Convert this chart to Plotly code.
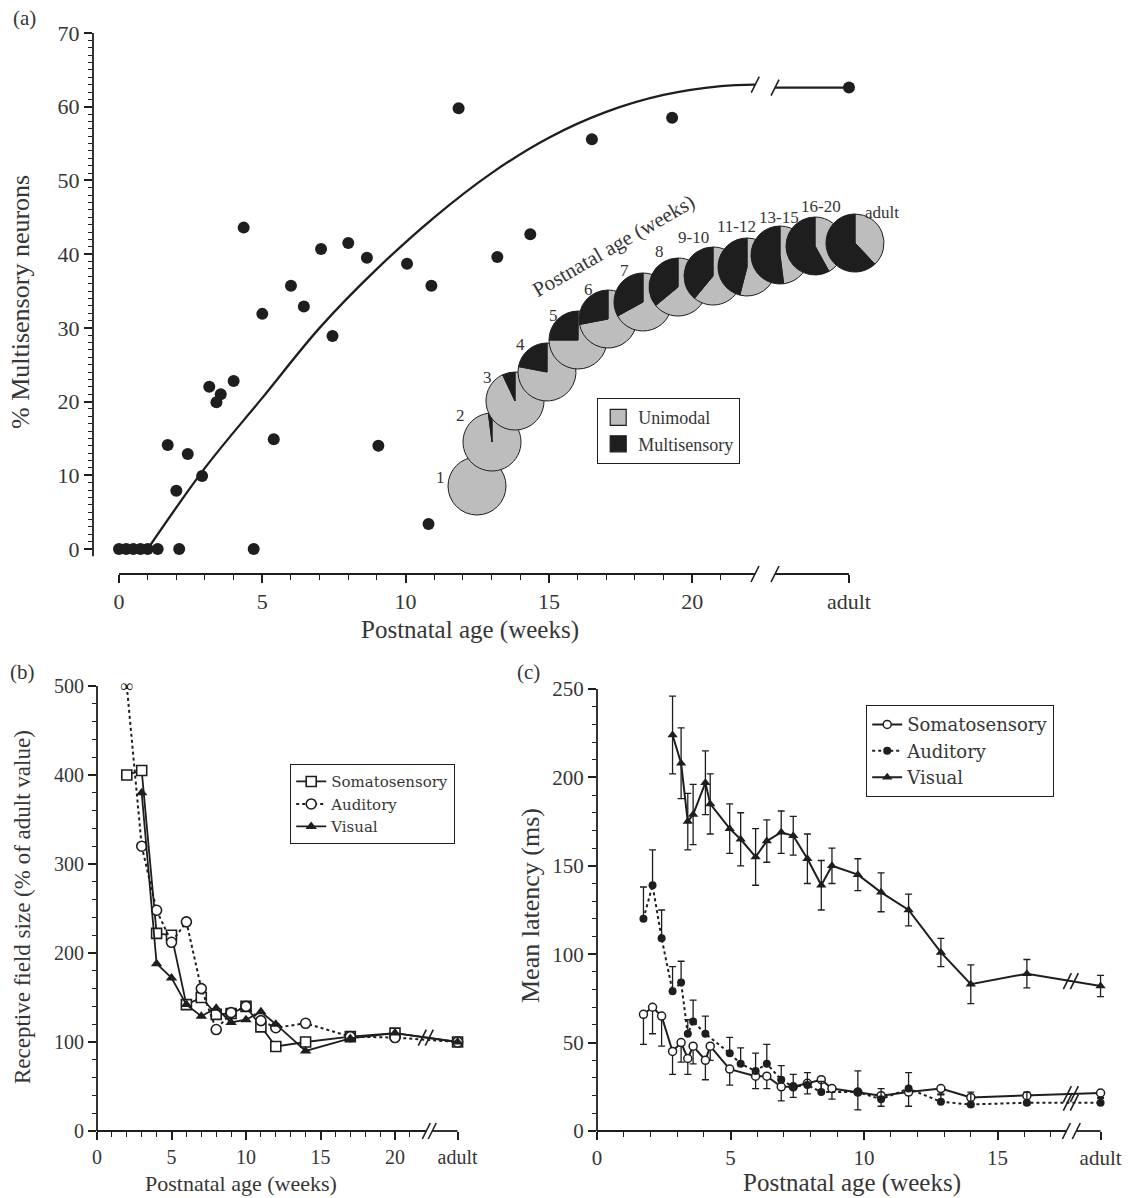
import plotly.graph_objects as go

W, H = 1138, 1198
SERIF = "Liberation Serif, 'Times New Roman', DejaVu Serif, serif"
WIDE_SERIF = "DejaVu Serif, Liberation Serif, serif"
INK = "#1e1e1e"
TXT = "#363636"
GREY = "#bdbdbd"

# ---------------- data: panel (a) ----------------
A_AGE = [0, 0.25, 0.5, 0.75, 1.0, 1.35, 1.7, 2.0, 2.1, 2.4, 2.9, 3.15, 3.4, 3.55, 4.0, 4.35, 4.7,
         5.0, 5.4, 6.0, 6.45, 7.05, 7.45, 8.0, 8.65, 9.05, 10.05, 10.8, 10.9, 11.85, 13.2, 14.35,
         16.5, 19.3]
A_PCT = [0, 0, 0, 0, 0, 0, 14.1, 7.9, 0, 12.9, 9.9, 22, 19.9, 21, 22.8, 43.6, 0,
         31.9, 14.9, 35.7, 32.9, 40.7, 28.9, 41.5, 39.5, 14, 38.7, 3.4, 35.7, 59.8, 39.6, 42.7,
         55.6, 58.5]
A_ADULT_PCT = 62.6
FIT_AGE = [1.0, 3, 5, 7, 9, 11, 13, 15, 17, 19, 21, 22.2]
FIT_PCT = [0, 11, 20.5, 30, 38, 45, 51, 55.8, 59.3, 61.6, 62.8, 63.0]
FIT_ADULT_PCT = 62.6
A_XTICKS = [0, 5, 10, 15, 20]
A_YTICKS = [0, 10, 20, 30, 40, 50, 60, 70]
ADULT_LABEL = "adult"

PIE_AGES = ["1", "2", "3", "4", "5", "6", "7", "8", "9-10", "11-12", "13-15", "16-20", "adult"]
PIE_MULTI_PCT = [0, 2, 7, 22, 25, 28, 33, 36, 39, 46, 52, 58, 62]
PIE_SLICES = ["Unimodal", "Multisensory"]

# ---------------- data: panel (b) ----------------
B_SOM_AGE = [2, 3, 4, 5, 6, 7, 8, 9, 10, 11, 12, 14, 17, 20]
B_SOM_RF = [400, 405, 222, 220, 142, 150, 131, 132, 140, 117, 95, 100, 106, 110]
B_AUD_AGE = [2, 3, 4, 5, 6, 7, 8, 9, 10, 11, 12, 14, 17, 20]
B_AUD_RF = [500, 320, 248, 212, 235, 160, 114, 133, 140, 124, 116, 121, 106, 105]  # 2 wk: infinite
B_VIS_AGE = [3, 4, 5, 6, 7, 8, 9, 10, 11, 12, 14, 17, 20]
B_VIS_RF = [380, 188, 172, 142, 129, 138, 122, 125, 134, 120, 90, 104, 110]
B_ADULT_RF = 100
B_XTICKS = [0, 5, 10, 15, 20]
B_YTICKS = [0, 100, 200, 300, 400, 500]

# ---------------- data: panel (c) ----------------
C_SOM_AGE = [1.74, 2.08, 2.42, 2.83, 3.15, 3.4, 3.6, 4.06, 4.24, 4.97, 5.94, 6.36, 6.9, 7.35, 7.88,
             8.4, 8.8, 9.77, 10.64, 11.67, 12.88, 14.0, 16.1]
C_SOM_LAT = [66, 70, 65, 45, 50, 41, 48, 40, 48, 35, 31, 31, 25, 25, 27, 29, 24, 22, 20, 22, 24, 19, 20]
C_SOM_ERR = [17, 15, 17, 13, 11, 9, 10, 11, 8, 9, 7, 7, 8, 6, 6, 6, 6, 10, 6, 8, 3, 5, 5]
C_SOM_ADULT, C_SOM_ADULT_ERR = 21.5, 3

C_AUD_AGE = [1.74, 2.08, 2.42, 2.83, 3.15, 3.4, 3.6, 4.06, 4.97, 5.38, 5.94, 6.36, 6.9, 7.35, 7.88,
             8.4, 9.77, 10.64, 11.67, 12.88, 14.0, 16.1]
C_AUD_LAT = [120, 139, 109, 79, 84, 55, 62, 55, 44, 38, 34, 38, 29, 25, 26, 22, 22, 18, 24, 16.5, 15, 16]
C_AUD_ERR = [18, 20, 16, 14, 12, 8, 12, 10, 9, 9, 10, 11, 8, 7, 7, 6, 12, 6, 9, 4, 7, 6]
C_AUD_ADULT, C_AUD_ADULT_ERR = 16, 3

C_VIS_AGE = [2.83, 3.15, 3.4, 3.6, 4.06, 4.24, 4.97, 5.38, 5.94, 6.36, 6.9, 7.35, 7.88, 8.4, 8.8,
             9.77, 10.64, 11.67, 12.88, 14.0, 16.1]
C_VIS_LAT = [224, 208, 175, 179, 197, 185, 171, 165, 155, 164, 169, 167, 154, 139, 150, 145, 135,
             125, 101, 83, 89]
C_VIS_ERR = [22, 20, 16, 17, 18, 17, 14, 15, 16, 12, 12, 11, 14, 14, 10, 9, 11, 9, 8, 11, 8]
C_VIS_ADULT, C_VIS_ADULT_ERR = 82, 6
C_XTICKS = [0, 5, 10, 15]
C_YTICKS = [0, 50, 100, 150, 200, 250]

SERIES_NAMES = ["Somatosensory", "Auditory", "Visual"]

# ---------------- layout geometry (pixels) ----------------
PANELS = {
    "a": dict(ax="", xpix=(93, 870), x0=119, xs=28.66, ypix=(574, 28), y0=549, ys=7.371,
              adult=25.47, brk=(22.19, 22.89), tick=22),
    "b": dict(ax="2", xpix=(97, 470), x0=97, xs=14.9, ypix=(1131, 676), y0=1131, ys=0.89,
              adult=24.2, brk=(22.1, 22.5), tick=20),
    "c": dict(ax="3", xpix=(597, 1115), x0=597, xs=26.7, ypix=(1131, 680), y0=1131, ys=1.768,
              adult=18.86, brk=(17.58, 17.95), tick=21),
}
PIE_CENTERS = [(477, 486), (492, 442), (515, 401), (547, 372), (578, 340), (608, 319), (643, 302),
               (678, 287), (713, 276), (747, 267), (780, 255), (815, 246), (855, 243)]
PIE_R = 29
PIE_LABEL_POS = [(440, 478), (460, 416), (487, 377), (520, 345), (553, 315), (588, 289), (624, 270),
                 (659, 251), (693, 238), (736, 226), (779, 218), (821, 207), (882, 213)]

fig = go.Figure()


def ids(p):
    a = PANELS[p]["ax"]
    return "x" + a, "y" + a


def axis_dicts(p, xticks, yticks, xminor, yminor):
    g = PANELS[p]
    xa = dict(
        domain=[g["xpix"][0] / W, g["xpix"][1] / W],
        range=[(g["xpix"][0] - g["x0"]) / g["xs"], (g["xpix"][1] - g["x0"]) / g["xs"]],
        tickmode="array", tickvals=xticks + [g["adult"]],
        ticktext=[str(v) for v in xticks] + [ADULT_LABEL],
        ticks="outside", ticklen=8, tickwidth=1.5, tickcolor=INK, automargin=False,
        showline=False, showgrid=False, zeroline=False, fixedrange=True,
        tickfont=dict(family=SERIF, size=g["tick"], color=TXT),
        minor=dict(tickmode="array", tickvals=xminor, ticks="outside", ticklen=5,
                   tickwidth=1.2, tickcolor=INK, showgrid=False),
        anchor=ids(p)[1],
    )
    ya = dict(
        domain=[1 - g["ypix"][0] / H, 1 - g["ypix"][1] / H],
        range=[(g["y0"] - g["ypix"][0]) / g["ys"], (g["y0"] - g["ypix"][1]) / g["ys"]],
        tickmode="array", tickvals=yticks, ticktext=[str(v) for v in yticks],
        ticks="outside", ticklen=8, tickwidth=1.5, tickcolor=INK, automargin=False,
        showline=False, showgrid=False, zeroline=False, fixedrange=True,
        tickfont=dict(family=SERIF, size=g["tick"], color=TXT),
        minor=dict(tickmode="array", tickvals=yminor, ticks="outside", ticklen=4,
                   tickwidth=1.1, tickcolor=INK, showgrid=False),
        anchor=ids(p)[0],
    )
    return xa, ya


shapes = []


def slash(xref, yref, xv, yv, dx=0, w=1.6):
    return dict(type="line", xref=xref, yref=yref, xsizemode="pixel", ysizemode="pixel",
                xanchor=xv, yanchor=yv, x0=dx - 4, x1=dx + 4, y0=-8, y1=8,
                line=dict(color=INK, width=w), layer="above")


def axis_lines(p, ytop, ybottom=0):
    g = PANELS[p]
    xr, yr = ids(p)
    shapes.append(dict(type="line", xref=xr + " domain", yref=yr, x0=0, x1=0, y0=ybottom, y1=ytop,
                       line=dict(color=INK, width=1.8)))
    shapes.append(dict(type="line", xref=xr, yref=yr + " domain", x0=0, x1=g["brk"][0], y0=0, y1=0,
                       line=dict(color=INK, width=1.8)))
    shapes.append(dict(type="line", xref=xr, yref=yr + " domain", x0=g["brk"][1], x1=g["adult"],
                       y0=0, y1=0, line=dict(color=INK, width=1.8)))
    for b in g["brk"]:
        shapes.append(slash(xr, yr + " domain", b, 0))


# ---------------- panel (a) ----------------
xa, ya = ids("a")
ga = PANELS["a"]
fig.add_trace(go.Scatter(x=A_AGE + [ga["adult"]], y=A_PCT + [A_ADULT_PCT], mode="markers",
                         marker=dict(size=12, color=INK), xaxis=xa, yaxis=ya, showlegend=False,
                         cliponaxis=False, hoverinfo="skip"))
fig.add_trace(go.Scatter(x=FIT_AGE, y=FIT_PCT, mode="lines", line=dict(color=INK, width=2.3, shape="spline"),
                         xaxis=xa, yaxis=ya, showlegend=False, hoverinfo="skip"))
fig.add_trace(go.Scatter(x=[ga["brk"][1], ga["adult"]], y=[FIT_ADULT_PCT, FIT_ADULT_PCT], mode="lines",
                         line=dict(color=INK, width=2.3), xaxis=xa, yaxis=ya, showlegend=False,
                         hoverinfo="skip"))
shapes.append(slash(xa, ya, FIT_AGE[-1], FIT_PCT[-1]))
shapes.append(slash(xa, ya, ga["brk"][1], FIT_ADULT_PCT))
axis_lines("a", max(A_YTICKS), -1)

for lab, m, (cx, cy) in zip(PIE_AGES, PIE_MULTI_PCT, PIE_CENTERS):
    if m > 0:
        labels, values, cols = PIE_SLICES, [100 - m, m], [GREY, INK]
    else:
        labels, values, cols = PIE_SLICES[:1], [100], [GREY]
    fig.add_trace(go.Pie(labels=labels, values=values, sort=False, direction="clockwise",
                         rotation=0, textinfo="none", hoverinfo="skip", showlegend=False,
                         marker=dict(colors=cols, line=dict(color=INK, width=1)),
                         domain=dict(x=[(cx - PIE_R) / W, (cx + PIE_R) / W],
                                     y=[1 - (cy + PIE_R) / H, 1 - (cy - PIE_R) / H])))
for name, col in zip(PIE_SLICES, [GREY, INK]):
    fig.add_trace(go.Scatter(x=[None], y=[None], mode="markers", name=name, legend="legend3",
                             marker=dict(symbol="square", size=16, color=col, line=dict(color=INK, width=1.2)),
                             xaxis=xa, yaxis=ya))

# ---------------- panel (b) ----------------
xb, yb = ids("b")
gb = PANELS["b"]
fig.add_trace(go.Scatter(x=B_AUD_AGE[:2], y=B_AUD_RF[:2], mode="lines",
                         line=dict(color=INK, width=2, dash="dot"), xaxis=xb, yaxis=yb,
                         showlegend=False, hoverinfo="skip"))
fig.add_trace(go.Scatter(x=B_SOM_AGE + [gb["adult"]], y=B_SOM_RF + [B_ADULT_RF], mode="lines+markers",
                         name=SERIES_NAMES[0], legend="legend2",
                         line=dict(color=INK, width=1.8),
                         marker=dict(symbol="square", size=10, color="white", line=dict(color=INK, width=1.6)),
                         xaxis=xb, yaxis=yb, cliponaxis=False, hoverinfo="skip"))
fig.add_trace(go.Scatter(x=B_AUD_AGE[1:] + [gb["adult"]], y=B_AUD_RF[1:] + [B_ADULT_RF], mode="lines+markers",
                         name=SERIES_NAMES[1], legend="legend2",
                         line=dict(color=INK, width=2, dash="dot"),
                         marker=dict(symbol="circle", size=10, color="white", line=dict(color=INK, width=1.6)),
                         xaxis=xb, yaxis=yb, cliponaxis=False, hoverinfo="skip"))
fig.add_trace(go.Scatter(x=B_VIS_AGE + [gb["adult"]], y=B_VIS_RF + [B_ADULT_RF], mode="lines+markers",
                         name=SERIES_NAMES[2], legend="legend2",
                         line=dict(color=INK, width=1.8),
                         marker=dict(symbol="triangle-up", size=10, color=INK),
                         xaxis=xb, yaxis=yb, cliponaxis=False, hoverinfo="skip"))
bmid = (B_SOM_AGE[-1] + gb["adult"]) / 2
shapes.append(slash(xb, yb, bmid, (B_SOM_RF[-1] + B_ADULT_RF) / 2, dx=-4))
shapes.append(slash(xb, yb, bmid, (B_SOM_RF[-1] + B_ADULT_RF) / 2, dx=3))
axis_lines("b", max(B_YTICKS))

# ---------------- panel (c) ----------------
xc, yc = ids("c")
gc = PANELS["c"]
fig.add_trace(go.Scatter(x=C_SOM_AGE + [gc["adult"]], y=C_SOM_LAT + [C_SOM_ADULT], mode="lines+markers",
                         name=SERIES_NAMES[0], legend="legend",
                         line=dict(color=INK, width=2),
                         marker=dict(symbol="circle", size=8, color="white", line=dict(color=INK, width=1.5)),
                         error_y=dict(type="data", symmetric=False, arrayminus=C_SOM_ERR + [C_SOM_ADULT_ERR],
                                      array=[0] * (len(C_SOM_ERR) + 1), color=INK, thickness=1.3, width=3.5),
                         xaxis=xc, yaxis=yc, cliponaxis=False, hoverinfo="skip"))
fig.add_trace(go.Scatter(x=C_AUD_AGE + [gc["adult"]], y=C_AUD_LAT + [C_AUD_ADULT], mode="lines+markers",
                         name=SERIES_NAMES[1], legend="legend",
                         line=dict(color=INK, width=2, dash="dot"),
                         marker=dict(symbol="circle", size=8, color=INK),
                         error_y=dict(type="data", symmetric=False, array=C_AUD_ERR + [C_AUD_ADULT_ERR],
                                      arrayminus=[0] * (len(C_AUD_ERR) + 1), color=INK, thickness=1.3, width=3.5),
                         xaxis=xc, yaxis=yc, cliponaxis=False, hoverinfo="skip"))
fig.add_trace(go.Scatter(x=C_VIS_AGE + [gc["adult"]], y=C_VIS_LAT + [C_VIS_ADULT], mode="lines+markers",
                         name=SERIES_NAMES[2], legend="legend",
                         line=dict(color=INK, width=2),
                         marker=dict(symbol="triangle-up", size=9, color=INK),
                         error_y=dict(type="data", array=C_VIS_ERR + [C_VIS_ADULT_ERR], color=INK,
                                      thickness=1.3, width=3.5),
                         xaxis=xc, yaxis=yc, cliponaxis=False, hoverinfo="skip"))
cmid = sum(gc["brk"]) / 2
for last_age, last_val, adult_val in [(C_VIS_AGE[-1], C_VIS_LAT[-1], C_VIS_ADULT),
                                      (C_SOM_AGE[-1], C_SOM_LAT[-1], C_SOM_ADULT),
                                      (C_AUD_AGE[-1], C_AUD_LAT[-1], C_AUD_ADULT)]:
    yv = last_val + (adult_val - last_val) * (cmid - last_age) / (gc["adult"] - last_age)
    shapes.append(slash(xc, yc, cmid, yv, dx=-4))
    shapes.append(slash(xc, yc, cmid, yv, dx=3))
axis_lines("c", max(C_YTICKS))

# ---------------- axes ----------------
layout_axes = {}
for p, xt, yt, xm, ym in [
    ("a", A_XTICKS, A_YTICKS, [v for v in range(1, 22) if v % 5], [v for v in range(0, 71) if v % 10]),
    ("b", B_XTICKS, B_YTICKS, [v for v in range(1, 22) if v % 5], [v for v in range(0, 501, 20) if v % 100]),
    ("c", C_XTICKS, C_YTICKS, [v for v in range(1, 18) if v % 5], [v for v in range(0, 251, 10) if v % 50]),
]:
    xd, yd = axis_dicts(p, xt, yt, xm, ym)
    a = PANELS[p]["ax"]
    layout_axes["xaxis" + a] = xd
    layout_axes["yaxis" + a] = yd

# ---------------- annotations ----------------
ann = []


def text(x, y, s, size, angle=0, color=TXT):
    ann.append(dict(x=x / W, y=1 - y / H, xref="paper", yref="paper", text=s, showarrow=False,
                    font=dict(family=SERIF, size=size, color=color), textangle=angle,
                    xanchor="center", yanchor="middle"))


text(24, 18, "(a)", 21)
text(22, 672, "(b)", 21)
text(528, 672, "(c)", 21)
text(470, 630, "Postnatal age (weeks)", 25)
text(241, 1183, "Postnatal age (weeks)", 22)
text(852, 1183, "Postnatal age (weeks)", 25)
text(20, 302, "% Multisensory neurons", 26, -90)
text(22, 907, "Receptive field size (% of adult value)", 23, -90)
text(530, 906, "Mean latency (ms)", 26, -90)
text(613, 246, "Postnatal age (weeks)", 21, -30)
for lab, (lx, ly) in zip(PIE_AGES, PIE_LABEL_POS):
    text(lx, ly, lab, 17)
ann.append(dict(x=B_AUD_AGE[0], y=B_AUD_RF[0], xref=xb, yref=yb, text="∞", showarrow=False,
                font=dict(family=SERIF, size=18, color=INK), xanchor="center", yanchor="middle"))


def legend(x, y, size, family=SERIF):
    return dict(x=x / W, y=1 - y / H, xanchor="left", yanchor="top", bgcolor="white",
                bordercolor=INK, borderwidth=1.2, font=dict(family=family, size=size, color=TXT),
                itemwidth=30, tracegroupgap=0, traceorder="normal")


fig.update_layout(
    width=W, height=H, autosize=False,
    margin=dict(l=0, r=0, t=0, b=0, pad=0, autoexpand=False),
    paper_bgcolor="white", plot_bgcolor="white",
    showlegend=True,
    legend=legend(866, 705, 18, WIDE_SERIF),
    legend2=legend(290, 764, 15, WIDE_SERIF),
    legend3=legend(597, 398, 18),
    shapes=shapes,
    annotations=ann,
    **layout_axes,
)

fig.write_html("out.html", config={"displayModeBar": False},
               post_script="document.body.style.margin='0px';")
